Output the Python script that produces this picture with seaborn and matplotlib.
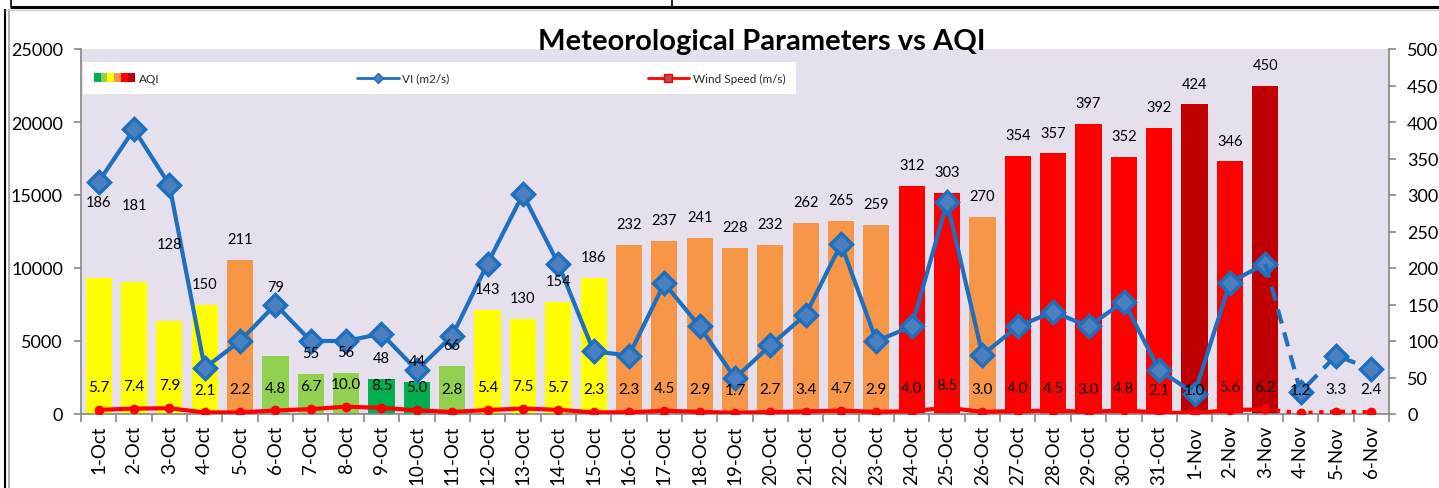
import matplotlib
matplotlib.use("Agg")
import matplotlib.pyplot as plt
import seaborn as sns
import numpy as np
import pandas as pd
from matplotlib.patches import Rectangle
from matplotlib.lines import Line2D
from matplotlib.legend_handler import HandlerTuple

dates = ["1-Oct", "2-Oct", "3-Oct", "4-Oct", "5-Oct", "6-Oct", "7-Oct", "8-Oct",
         "9-Oct", "10-Oct", "11-Oct", "12-Oct", "13-Oct", "14-Oct", "15-Oct",
         "16-Oct", "17-Oct", "18-Oct", "19-Oct", "20-Oct", "21-Oct", "22-Oct",
         "23-Oct", "24-Oct", "25-Oct", "26-Oct", "27-Oct", "28-Oct", "29-Oct",
         "30-Oct", "31-Oct", "1-Nov", "2-Nov", "3-Nov", "4-Nov", "5-Nov", "6-Nov"]
aqi = [186, 181, 128, 150, 211, 79, 55, 56, 48, 44, 66, 143, 130, 154, 186,
       232, 237, 241, 228, 232, 262, 265, 259, 312, 303, 270, 354, 357, 397,
       352, 392, 424, 346, 450, np.nan, np.nan, np.nan]
vi = [15900, 19500, 15700, 3150, 5000, 7500, 5000, 5000, 5500, 3000, 5350,
      10300, 15050, 10300, 4300, 4000, 8950, 6000, 2450, 4700, 6800, 11650,
      5000, 6000, 14500, 4050, 6000, 7000, 6000, 7700, 3000, 1400, 9000,
      10300, 1500, 4000, 3100]
wind = [5.7, 7.4, 7.9, 2.1, 2.2, 4.8, 6.7, 10.0, 8.5, 5.0, 2.8, 5.4, 7.5, 5.7,
        2.3, 2.3, 4.5, 2.9, 1.7, 2.7, 3.4, 4.7, 2.9, 4.0, 8.5, 3.0, 4.0, 4.5,
        3.0, 4.8, 2.1, 1.0, 5.6, 6.2, 1.2, 3.3, 2.4]
n_obs = 34  # days with observed AQI (later days are forecast, dashed)

C_DG, C_LG, C_Y, C_O, C_R, C_DR = "#00B050", "#92D050", "#FFFF00", "#F79646", "#FF0000", "#C00000"


def aqi_color(v):
    if np.isnan(v):
        return "#FFFFFF"
    if v <= 50:
        return C_DG
    if v <= 100:
        return C_LG
    if v <= 200:
        return C_Y
    if v <= 300:
        return C_O
    if v <= 400:
        return C_R
    return C_DR


colors = [aqi_color(v) for v in aqi]

sns.set_theme(style="white")
plt.rcParams['font.family'] = ['Lato', 'DejaVu Sans']

W, H = 1439, 489
fig = plt.figure(figsize=(W / 100, H / 100), dpi=100)


def fx(p):
    return p / W


def fy(p):
    return 1 - p / H


ax = fig.add_axes([fx(81), fy(415), fx(1389) - fx(81), fy(50) - fy(415)])
ax.set_facecolor("#E5E0EC")

df = pd.DataFrame({"date": dates, "aqi": aqi})
sns.barplot(data=df, x="date", y="aqi", hue="date", order=dates,
            palette=dict(zip(dates, colors)), legend=False, width=0.74,
            saturation=1, linewidth=0, ax=ax)

xs = np.arange(len(dates))
RED = "#FF0000"
ax.plot(xs[:n_obs], wind[:n_obs], color=RED, lw=3, marker="o", ms=6,
        mfc=RED, mec=RED, zorder=4)
ax.plot(xs[n_obs - 1:], wind[n_obs - 1:], color=RED, lw=3, ls=(0, (1, 1.6)),
        marker="o", ms=6, mfc=RED, mec=RED, markevery=[1, 2, 3], zorder=4)

ax_vi = ax.twinx()
BLUE = "#1E6FBE"
ax_vi.plot(xs[:n_obs], vi[:n_obs], color=BLUE, lw=3, marker="D", ms=11,
           mfc="#4A80C0", mec=BLUE, mew=2.5, zorder=5)
ax_vi.plot(xs[n_obs - 1:], vi[n_obs - 1:], color=BLUE, lw=3, ls=(0, (3.5, 2.2)),
           marker="D", ms=11, mfc="#4A80C0", mec=BLUE, mew=2.5,
           markevery=[1, 2, 3], zorder=5)

# data labels (drawn on top of all series)
extra = {0: 55, 1: 55, 2: 55, 5: 50}
for i, v in enumerate(aqi):
    if np.isnan(v):
        continue
    ax_vi.annotate(f"{int(v)}", (i, v), xycoords=ax.transData,
                   xytext=(0, extra.get(i, 15)), textcoords="offset points",
                   ha="center", va="center", fontsize=10.5, color="black",
                   zorder=8)
for i, w in enumerate(wind):
    ax_vi.annotate(f"{w:.1f}", (i, w), xycoords=ax.transData,
                   xytext=(0, 16.5), textcoords="offset points",
                   ha="center", va="center", fontsize=11, color="black",
                   zorder=8)

ax.set_xlim(-0.5, len(dates) - 0.5)
ax.set_ylim(0, 500)
ax_vi.set_ylim(0, 25000)
ax.set_yticks(np.arange(0, 501, 50))
ax_vi.set_yticks(np.arange(0, 25001, 5000))
ax.set_xlabel("")
ax.set_ylabel("")

GRAY = "#868686"
ax.yaxis.tick_right()
ax.tick_params(axis="y", which="major", direction="out", length=5, width=1.2,
               color=GRAY, right=True, left=False, labelright=True,
               labelleft=False, labelsize=13, pad=8, labelcolor="black")
ax_vi.yaxis.tick_left()
ax_vi.tick_params(axis="y", which="major", direction="out", length=5, width=1.2,
                  color=GRAY, left=True, right=False, labelleft=True,
                  labelright=False, labelsize=13, pad=8, labelcolor="black")

ax.set_xticks(xs)
ax.set_xticklabels(dates, rotation=90, fontsize=13.5)
ax.set_xticks(np.arange(-0.5, len(dates), 1), minor=True)
ax.tick_params(axis="x", which="major", length=0, pad=8, labelcolor="black")
ax.tick_params(axis="x", which="minor", bottom=True, direction="out", length=6,
               width=1.2, color=GRAY)

for name, sp in ax.spines.items():
    sp.set_visible(name in ("left", "right", "bottom"))
    sp.set_color(GRAY)
    sp.set_linewidth(1.2)
for sp in ax_vi.spines.values():
    sp.set_visible(False)

# Legend
aqi_handle = tuple(Rectangle((0, 0), 1, 1, facecolor=c, edgecolor="none")
                   for c in [C_DG, C_LG, C_Y, C_O, C_R, C_DR])
vi_handle = Line2D([], [], color=BLUE, lw=2, marker="D", ms=5, mfc="#4A80C0", mec=BLUE)
wind_handle = Line2D([], [], color=RED, lw=2, marker="s", ms=6, mfc="#B94A48", mec=RED)
leg = ax_vi.legend([aqi_handle, vi_handle, wind_handle],
                   ["AQI", "VI (m2/s)", "Wind Speed (m/s)"],
                   handler_map={tuple: HandlerTuple(ndivide=None, pad=0)},
                   loc="upper left", bbox_to_anchor=(fx(83), fy(63)),
                   bbox_transform=fig.transFigure, borderaxespad=0, ncol=3,
                   fontsize=8.5, handlelength=3.5, handletextpad=0.3,
                   columnspacing=16.8, borderpad=0.9, frameon=True,
                   fancybox=False, framealpha=1)
leg.get_frame().set_facecolor("white")
leg.get_frame().set_edgecolor("none")
leg.set_zorder(10)

fig.text(fx(762), fy(42), "Meteorological Parameters vs AQI", ha="center",
         va="center", fontsize=21, fontweight="bold", color="black")

# page / table border lines
def fline(x0, y0, x1, y1, color="black", lw=1.5):
    fig.add_artist(Line2D([fx(x0), fx(x1)], [fy(y0), fy(y1)], color=color,
                          lw=lw, transform=fig.transFigure, solid_capstyle="butt"))


fline(10, 8, W, 8, lw=2.2)
fline(11, 0, 11, 8, lw=1.2)
fline(672, 0, 672, 8, lw=1.2)
fline(4.5, 10, 4.5, H, lw=1.5)
fline(9, 10, 9, H, color="#A0A0A0", lw=1.2)
fline(4.5, 10.5, W, 10.5, color="#C8C8C8", lw=0.8)

fig.savefig("out.png", dpi=100)
